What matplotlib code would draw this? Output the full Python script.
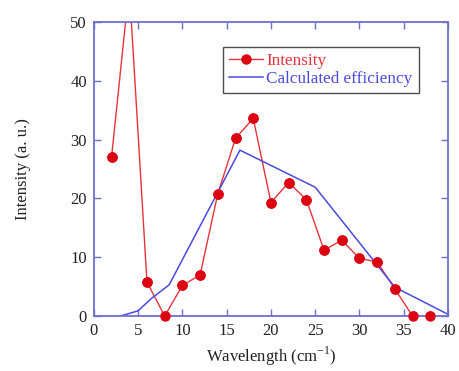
import numpy as np
import matplotlib
matplotlib.use("Agg")
import matplotlib.pyplot as plt

plt.rcParams["font.family"] = ["Liberation Serif", "DejaVu Serif"]
plt.rcParams["mathtext.fontset"] = "custom"
plt.rcParams["mathtext.rm"] = "Liberation Serif"

# measured intensity (a. u.)
wl_int = [2, 4, 6, 8, 10, 12, 14, 16, 18, 20, 22, 24, 26, 28, 30, 32, 34, 36, 38]
intensity = [27, 56, 5.8, 0, 5.2, 7.0, 20.8, 30.2, 33.6, 19.3, 22.7, 19.8,
             11.2, 12.9, 9.8, 9.2, 4.6, 0, 0]

# calculated efficiency curve
wl_eff = [3, 5, 6.5, 8.5, 16.5, 25, 34, 40]
efficiency = [0, 0.9, 3.0, 5.3, 28.2, 21.9, 4.9, 0.3]

red = "#e8333a"
mark = "#dd0011"
blue = "#4a4ae0"
frame = "#6f6fd0"

fig = plt.figure(figsize=(4.6, 3.71), dpi=100)
ax = fig.add_axes([0.204, 0.148, 0.770, 0.793])

ax.plot(wl_int, intensity, "-o", color=red, lw=1.0, ms=6.5,
        mfc=mark, mec=mark, label="Intensity")
# markers inside the range are drawn unclipped so the ones on y=0 stay round
inside = [(x, y) for x, y in zip(wl_int, intensity) if y <= 50]
ax.plot([p[0] for p in inside], [p[1] for p in inside], "o", ms=6.5,
        color=mark, clip_on=False, zorder=4)
ax.plot(wl_eff, efficiency, "-", color=blue, lw=1.1, label="Calculated efficiency")

ax.set_xlim(0, 40)
ax.set_ylim(0, 50)
ax.set_xticks(range(0, 41, 5))
ax.set_yticks(range(0, 51, 10))
ax.tick_params(direction="in", top=True, right=True, length=5, width=1,
               color=frame, labelsize=12, labelcolor="#222222", pad=5)
for s in ax.spines.values():
    s.set_color(frame)
    s.set_linewidth(1.3)

ax.set_xlabel(r"Wavelength (cm$^{\mathrm{-1}}$)", fontsize=12, color="#222222", labelpad=4)
ax.set_ylabel("Intensity (a. u.)", fontsize=12, color="#222222", labelpad=28)

leg = ax.legend(loc="upper left", bbox_to_anchor=(0.34, 0.945), fontsize=12.3,
                frameon=True, fancybox=False, handlelength=2.0,
                borderpad=0.35, labelspacing=0.15, handletextpad=0.2)
leg.get_frame().set_edgecolor("#222222")
leg.get_frame().set_linewidth(1.0)
leg.texts[0].set_color(red)
leg.texts[1].set_color(blue)

fig.savefig("out.png", dpi=100)
